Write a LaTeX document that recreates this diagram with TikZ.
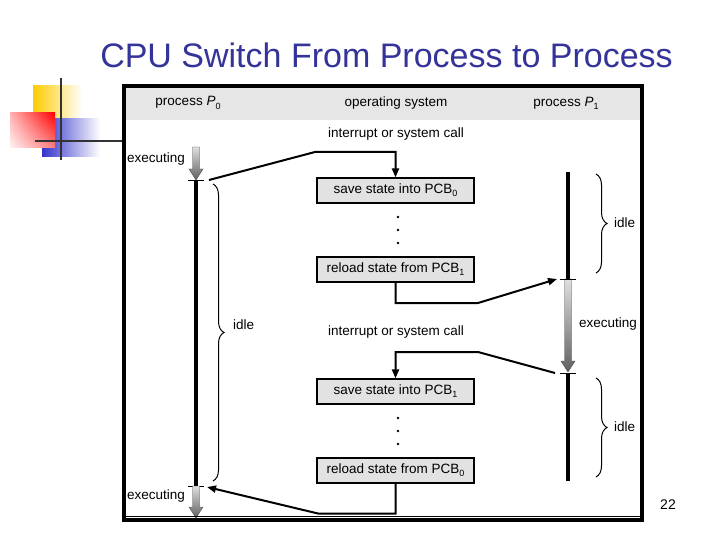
\documentclass[tikz,border=0pt]{standalone}
\usepackage{fontspec}
\setmainfont{Liberation Sans}
\usetikzlibrary{arrows.meta,positioning,calc,decorations.pathreplacing,shadings}

\definecolor{titleblue}{HTML}{333399}
\definecolor{headgray}{HTML}{E6E6E6}
\definecolor{boxgray}{HTML}{E2E2E2}
\definecolor{decoyellow}{HTML}{FFCC00}
\definecolor{decoblue}{HTML}{3333CC}
\definecolor{decoline}{HTML}{333333}
\newcommand{\subnum}[1]{\raisebox{-0.45ex}{\fontsize{9}{9}\selectfont #1}}
\newcommand{\gradarrow}[3]{%
  \shade[top color=gray!25, bottom color=gray!75!black, draw=gray!60!black, line width=0.4pt]
    (#1-3.5,#2) -- (#1+3.5,#2) -- (#1+3.5,#3-11) -- (#1+7,#3-11) -- (#1,#3)
    -- (#1-7,#3-11) -- (#1-3.5,#3-11) -- cycle;}

\tikzset{
  lbl/.style={font=\fontsize{13.5}{16}\selectfont, inner sep=0pt},
  osbox/.style={draw, line width=1.2pt, fill=boxgray, minimum width=157pt, minimum height=25pt,
    font=\fontsize{13.5}{16}\selectfont, inner sep=0pt},
  conn/.style={line width=2pt, -{Triangle[length=9pt,width=7pt]}},
  timeline/.style={line width=3.5pt},
  tick/.style={line width=1pt},
  idlebrace/.style={decorate, decoration={brace, amplitude=11pt, aspect=0.5}, line width=1pt},
}

\begin{document}
\begin{tikzpicture}[x=1pt, y=-1pt]
\useasboundingbox (0,0) rectangle (720,540);

% decoration
\shade[left color=decoyellow, middle color=decoyellow, right color=white] (33,86) rectangle (82,120);
\shade[left color=decoblue, middle color=decoblue, right color=white] (42,119) rectangle (100,157);
\shade[upper right=red, upper left=red!30, lower right=red!50, lower left=red!5] (10,113) rectangle (55,148);
\draw[decoline, line width=2.5pt] (61,78) -- (61,160);
\draw[decoline, line width=2.5pt] (35,141) -- (122,141);

% title
\node[anchor=base, text=titleblue, font=\fontsize{34}{40}\selectfont, inner sep=0pt] (title) at (386.5,68) {CPU Switch From Process to Process};

% header
\fill[headgray] (126,88) rectangle (640,120);
\node[lbl] (hp0) at (188,103) {process \textit{P}\subnum{0}};
\node[lbl] (hos) at (396,103) {operating system};
\node[lbl] (hp1) at (566,103) {process \textit{P}\subnum{1}};

% operating system
\node[lbl] (irq0) at (396,134) {interrupt or system call};
\node[osbox] (sv0) at (395.5,190.5) {save state into PCB\subnum{0}};
\node[osbox] (rl1) at (395.5,269.5) {reload state from PCB\subnum{1}};
\node[lbl] (irq1) at (396,332) {interrupt or system call};
\node[osbox] (sv1) at (395.5,391.5) {save state into PCB\subnum{1}};
\node[osbox] (rl0) at (395.5,470.5) {reload state from PCB\subnum{0}};
\foreach \y in {217,230,243,418,431,444}
  \fill (398,\y) circle (1.3);

% process P0
\gradarrow{196}{147}{180}
\coordinate (t0a) at (196,181);
\coordinate (t0b) at (196,486);
\draw[timeline] (t0a) -- (t0b);
\draw[tick] ([xshift=-8]t0a) -- ([xshift=8]t0a);
\draw[tick] ([xshift=-8]t0b) -- ([xshift=8]t0b);
\gradarrow{196}{486}{518}
\node[lbl, anchor=east] (ex0a) at (185,159) {executing};
\node[lbl, anchor=east] (ex0b) at (185,496) {executing};
\draw[idlebrace] (213,184) -- (213,481);
\node[lbl, anchor=west] (id0) at (233,325) {idle};

% process P1
\coordinate (t1top) at (568,172);
\coordinate (t1a) at (568,279);
\coordinate (t1b) at (568,373);
\coordinate (t1end) at (568,481);
\draw[timeline] (t1top) -- (t1a);
\gradarrow{568}{279}{372}
\draw[timeline] (t1b) -- (t1end);
\draw[tick] ([xshift=-8]t1a) -- ([xshift=8]t1a);
\draw[tick] ([xshift=-8]t1b) -- ([xshift=8]t1b);
\node[lbl, anchor=west] (ex1) at (579,324) {executing};
\draw[idlebrace] (596,174) -- (596,273);
\node[lbl, anchor=west] (id1a) at (614,223) {idle};
\draw[idlebrace] (596,378) -- (596,477);
\node[lbl, anchor=west] (id1b) at (614,427) {idle};

% switches
\coordinate (p0out) at (209,180);
\coordinate (p1in) at (557,279);
\coordinate (p1out) at (555,373);
\coordinate (p0in) at (207,487);
\draw[conn] (p0out) -- (315,152) -| (sv0.north);
\draw[conn] (rl1.south) |- (478,303) -- (p1in);
\draw[conn] (p1out) -- (478,352) -| (sv1.north);
\draw[conn] (rl0.south) |- (318,513.5) -- (p0in);

% frame
\draw[line width=1pt] (124,516.5) -- (642,516.5);
\draw[line width=4pt] (124,86) rectangle (642,520);

% page number
\node[font=\fontsize{14}{16}\selectfont, inner sep=0pt] (page) at (668,505) {22};
\end{tikzpicture}
\end{document}
